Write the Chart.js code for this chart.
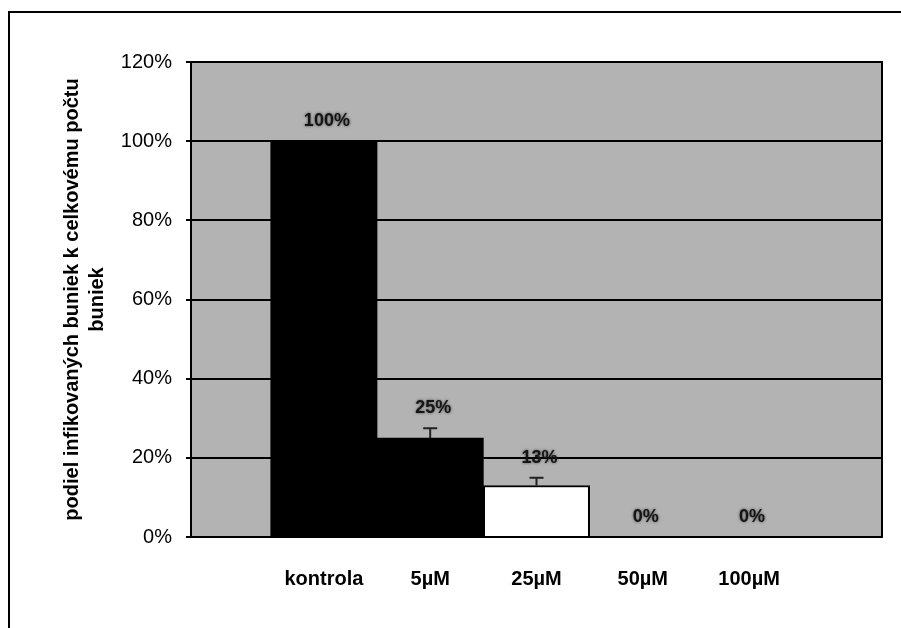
<!DOCTYPE html>
<html>
<head>
<meta charset="utf-8">
<script src="https://cdn.jsdelivr.net/npm/chart.js@4.4.0/dist/chart.umd.min.js"></script>
<style>
  html, body { margin: 0; padding: 0; background: #fff; overflow: hidden; }
  #frame { position: absolute; left: 8px; top: 11px; width: 1000px; height: 700px; border: 2px solid #000; }
  #wrap { position: absolute; left: 0; top: 0; width: 901px; height: 628px; }
</style>
</head>
<body>
<div id="frame"></div>
<div id="wrap"><canvas id="chart" width="901" height="628"></canvas></div>
<script>
// data
const categories = ['kontrola', '5µM', '25µM', '50µM', '100µM'];
const values = [100, 25, 13, 0, 0];
const errors = [0, 2.5, 2, 0, 0];
const yTicks = [0, 20, 40, 60, 80, 100, 120];
const barColors = ['#000', '#000', '#fff', '#fff', '#fff'];
const yTitle = ['podiel infikovaných buniek k celkovému počtu', 'buniek'];

Chart.defaults.font.family = '"Liberation Sans", Arial, sans-serif';
Chart.defaults.color = '#000';

// grey plot background + frame around the plot
const plotFrame = {
    id: 'plotFrame',
    beforeDraw(chart) {
        const { ctx, chartArea: a } = chart;
        ctx.save();
        ctx.fillStyle = '#b3b3b3';
        ctx.fillRect(a.left, a.top, a.width, a.height);
        ctx.restore();
    },
    afterDraw(chart) {
        const { ctx, chartArea: a } = chart;
        ctx.save();
        ctx.strokeStyle = '#000';
        ctx.lineWidth = 2;
        ctx.strokeRect(a.left, a.top, a.width, a.height);
        ctx.restore();
    }
};

// error bars and value labels
const barExtras = {
    id: 'barExtras',
    afterDatasetsDraw(chart) {
        const { ctx, scales: { x, y } } = chart;
        ctx.save();
        values.forEach((v, i) => {
            const px = x.getPixelForValue(i + 1);
            const top = y.getPixelForValue(v + errors[i]);
            if (errors[i] > 0) {
                ctx.strokeStyle = '#222';
                ctx.lineWidth = 2;
                ctx.beginPath();
                ctx.moveTo(px, y.getPixelForValue(v));
                ctx.lineTo(px, top);
                ctx.moveTo(px - 7, top);
                ctx.lineTo(px + 7, top);
                ctx.stroke();
            }
            ctx.fillStyle = '#151515';
            ctx.shadowColor = 'rgba(0,0,0,0.6)';
            ctx.shadowBlur = 3;
            ctx.font = 'bold 18px "Liberation Sans", Arial, sans-serif';
            ctx.textAlign = 'center';
            ctx.textBaseline = 'middle';
            ctx.fillText(v + '%', px + 3, top - 20);
            ctx.shadowBlur = 0;
        });
        ctx.restore();
    }
};

new Chart(document.getElementById('chart'), {
    type: 'bar',
    data: {
        datasets: [{
            data: values.map((v, i) => ({ x: i + 1, y: v })),
            backgroundColor: barColors,
            borderColor: '#000',
            borderWidth: [0, 0, 2, 0, 0],
            barPercentage: 1,
            categoryPercentage: 1
        }]
    },
    options: {
        responsive: false,
        animation: false,
        layout: { padding: { left: 60, top: 62, right: 19, bottom: 0 } },
        plugins: { legend: { display: false }, tooltip: { enabled: false } },
        scales: {
            x: {
                type: 'linear',
                offset: false,
                min: -0.25,
                max: 6.25,
                afterBuildTicks: s => { s.ticks = categories.map((c, i) => ({ value: i + 1 })); },
                afterFit: s => { s.height = 91; },
                grid: { display: false, drawTicks: false, offset: false },
                border: { display: true, color: '#000', width: 2 },
                ticks: {
                    autoSkip: false,
                    maxRotation: 0,
                    padding: 30,
                    font: { size: 20, weight: 'bold' },
                    color: '#000',
                    callback: v => categories[v - 1] ?? ''
                }
            },
            y: {
                min: 0,
                max: 120,
                afterBuildTicks: s => { s.ticks = yTicks.map(v => ({ value: v })); },
                afterFit: s => { s.width = 131; },
                grid: { color: '#000', lineWidth: 2, tickLength: 5 },
                border: { color: '#000', width: 2 },
                ticks: {
                    padding: 14,
                    font: { size: 20 },
                    color: '#000',
                    callback: v => v + '%'
                },
                title: {
                    display: true,
                    text: yTitle,
                    color: '#000',
                    padding: 0,
                    font: { size: 20, weight: 'bold', lineHeight: 1.25 }
                }
            }
        }
    },
    plugins: [plotFrame, barExtras]
});
</script>
</body>
</html>
